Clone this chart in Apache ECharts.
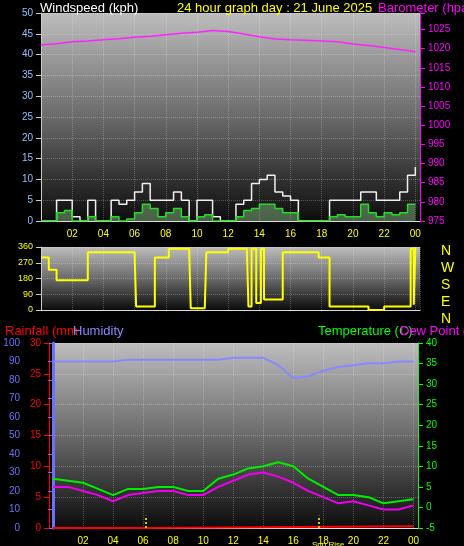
<!DOCTYPE html>
<html><head><meta charset="utf-8">
<script src="https://cdn.jsdelivr.net/npm/echarts@6/dist/echarts.min.js"></script>
<style>html,body{margin:0;background:#000}#c{width:464px;height:546px}</style></head>
<body><div id="c"></div>
<script>
const hoursHalf=[0,0.5,1,1.5,2,2.5,3,3.5,4,4.5,5,5.5,6,6.5,7,7.5,8,8.5,9,9.5,10,10.5,11,11.5,12,12.5,13,13.5,14,14.5,15,15.5,16,16.5,17,17.5,18,18.5,19,19.5,20,20.5,21,21.5,22,22.5,23,23.5,24];
const windGust=[0,0,5,5,1,0,5,0,0,5,4,5,7,9,5,5,5,7,5,0,5,5,1,0,0,4,5,9,10,11,7,6,5,0,0,0,0,5,5,5,5,7,7,5,5,5,7,11,13];
const windAvg=[0,0,2,2.5,0,0,1,0,0,1,0,0.5,2,4,3,1,2,3,1,0,1,1.5,0,0,0,1,2.5,3,4,4,3,2,2,0,0,0,0,1,1.5,1,1,4,2,1,2,1.5,2,4,4];
const hours=[0,1,2,3,4,5,6,7,8,9,10,11,12,13,14,15,16,17,18,19,20,21,22,23,24];
const baro=[1021,1021.3,1021.8,1022,1022.3,1022.6,1023,1023.2,1023.6,1024,1024.3,1024.7,1024.5,1023.8,1023.1,1022.5,1022.3,1022.2,1022,1021.8,1021.2,1020.8,1020.3,1019.8,1019.2];
const dirHours=[0,0.3,0.5,1,2.5,3,6,6.1,7,7.3,8,8.2,9.5,9.6,10.5,10.6,11.8,12,13.2,13.3,13.5,13.8,14.1,14.3,15.5,17.5,17.8,18.5,20.5,21,22,23.5,23.7,23.9,24];
const windDir=[300,300,230,170,170,330,330,20,20,300,300,350,340,10,10,330,330,350,350,20,350,40,350,60,330,330,300,20,20,0,20,20,350,30,360];
const humidity=[90,90,90,90,90,91,91,91,91,91,91,91,92,92,92,88,81,82,85,87,88,89,89,90,90];
const temperature=[7,6.5,6,4.5,3,4.5,4.5,5,5,4,4,7,8,9.5,10,11,10,7,5,3,3,2.5,1,1.5,2];
const dewPoint=[5,5,4,3,1.5,3,3.5,4,4,3,3,5,6.5,8,8.5,7.5,6,4,2.5,1,1.5,0.5,-0.5,-0.5,0.5];
const rainHours=[0,6.2,6.2,24];
const rainfall=[0,0,0.3,0.3];
const sunMarks=[6.2,17.7];

const bg={type:'linear',x:0,y:0,x2:0,y2:1,colorStops:[{offset:0,color:'#bdbdbd'},{offset:0.5,color:'#6a6a6a'},{offset:1,color:'#0c0c0c'}]};
const pair=(a,b)=>a.map((v,i)=>[v,b[i]]);
const xl={color:'#ffff00',fontSize:10,formatter:v=>v%2||v==0?'':String(v%24).padStart(2,'0')};
const gl={lineStyle:{color:'rgba(255,255,255,0.25)',type:'dotted'}};
function xa(i,show){return {gridIndex:i,type:'value',min:0,max:24.3,interval:2,axisLabel:show?xl:{show:false},axisLine:{lineStyle:{color:'#ddd'}},axisTick:{show:false},splitLine:gl};}
const ts=(c,s)=>({color:c,fontSize:s||13,fontWeight:'normal'});
const ch=echarts.init(document.getElementById('c'));
ch.setOption({backgroundColor:'#000',animation:false,
grid:[{left:41,right:44,top:13,height:208,show:true,backgroundColor:bg,borderWidth:0},
{left:41,right:44,top:247,height:63,show:true,backgroundColor:bg,borderWidth:0},
{left:53,right:46,top:343,height:185,show:true,backgroundColor:bg,borderWidth:0}],
title:[{text:'Windspeed (kph)',left:35,top:-3,textStyle:ts('#fff')},
{text:'24 hour graph day : 21 June 2025',left:172,top:-3,textStyle:ts('#ffff00')},
{text:'Barometer (hpa',left:373,top:-3,textStyle:ts('#ff00ff')},
{text:'N\nW\nS\nE\nN',left:436,top:238,textStyle:{color:'#ffff00',fontSize:14,fontWeight:'normal',lineHeight:17}},
{text:'Rainfall (mm',left:0,top:320,textStyle:ts('#ff0000')},
{text:'Humidity',left:68,top:320,textStyle:ts('#8888ff')},
{text:'Temperature (C)',left:313,top:320,textStyle:ts('#00ff00')},
{text:'Dew Point (',left:395,top:320,textStyle:ts('#ff00ff')},
{text:'Sun Rise',left:307,top:536,textStyle:ts('#ffff00',8)}],
xAxis:[xa(0,true),xa(1,false),xa(2,true)],
yAxis:[
{gridIndex:0,min:0,max:50,interval:5,axisLabel:{color:'#8fc0ff',fontSize:10},axisLine:{show:true,lineStyle:{color:'#ccc'}},axisTick:{show:true},splitLine:gl},
{gridIndex:0,position:'right',min:975,max:1029.3,interval:5,axisLabel:{color:'#ff00ff',fontSize:10,formatter:v=>v>1026?'':v},axisLine:{show:true,lineStyle:{color:'#ff00ff'}},axisTick:{show:true},splitLine:{show:false}},
{gridIndex:1,min:0,max:360,interval:90,axisLabel:{color:'#ffff00',fontSize:9},axisLine:{show:true,lineStyle:{color:'#ccc'}},splitLine:gl},
{gridIndex:2,position:'left',min:0,max:100,interval:10,offset:25,axisLabel:{color:'#6f6fff',fontSize:10},axisLine:{show:true,lineStyle:{color:'#6f6fff',width:3}},axisTick:{show:true},splitLine:{show:false}},
{gridIndex:2,position:'left',min:0,max:30,interval:5,offset:4,axisLabel:{color:'#ff0000',fontSize:10},axisLine:{show:true,lineStyle:{color:'#ff0000'}},axisTick:{show:true},splitLine:gl},
{gridIndex:2,position:'right',min:-5,max:40,interval:5,axisLabel:{color:'#00ff00',fontSize:10},axisLine:{show:true,lineStyle:{color:'#00ff00'}},axisTick:{show:true},splitLine:{show:false}}],
series:[
{type:'line',xAxisIndex:0,yAxisIndex:0,step:'end',symbol:'none',data:pair(hoursHalf,windGust),lineStyle:{color:'#f0f0f0',width:1.5}},
{type:'line',xAxisIndex:0,yAxisIndex:0,step:'end',symbol:'none',data:pair(hoursHalf,windAvg),lineStyle:{color:'#22dd22',width:1.5},areaStyle:{color:'rgba(180,255,180,0.5)'}},
{type:'line',xAxisIndex:0,yAxisIndex:1,symbol:'none',data:pair(hours,baro),lineStyle:{color:'#ff22ff',width:1.5}},
{type:'line',xAxisIndex:1,yAxisIndex:2,step:'end',symbol:'none',data:pair(dirHours,windDir),lineStyle:{color:'#ffff00',width:2}},
{type:'line',xAxisIndex:2,yAxisIndex:3,symbol:'none',data:pair(hours,humidity),lineStyle:{color:'#8888ff',width:2}},
{type:'line',xAxisIndex:2,yAxisIndex:4,symbol:'none',data:pair(rainHours,rainfall),lineStyle:{color:'#ff0000',width:2},
 markLine:{symbol:'none',silent:true,label:{show:false},lineStyle:{color:'#cccc00',type:'dotted',width:2},data:sunMarks.map(h=>[{coord:[h,0]},{coord:[h,2]}])}},
{type:'line',xAxisIndex:2,yAxisIndex:5,symbol:'none',data:pair(hours,temperature),lineStyle:{color:'#00ee00',width:2}},
{type:'line',xAxisIndex:2,yAxisIndex:5,symbol:'none',data:pair(hours,dewPoint),lineStyle:{color:'#ee00ee',width:2}}]
});
</script></body></html>
